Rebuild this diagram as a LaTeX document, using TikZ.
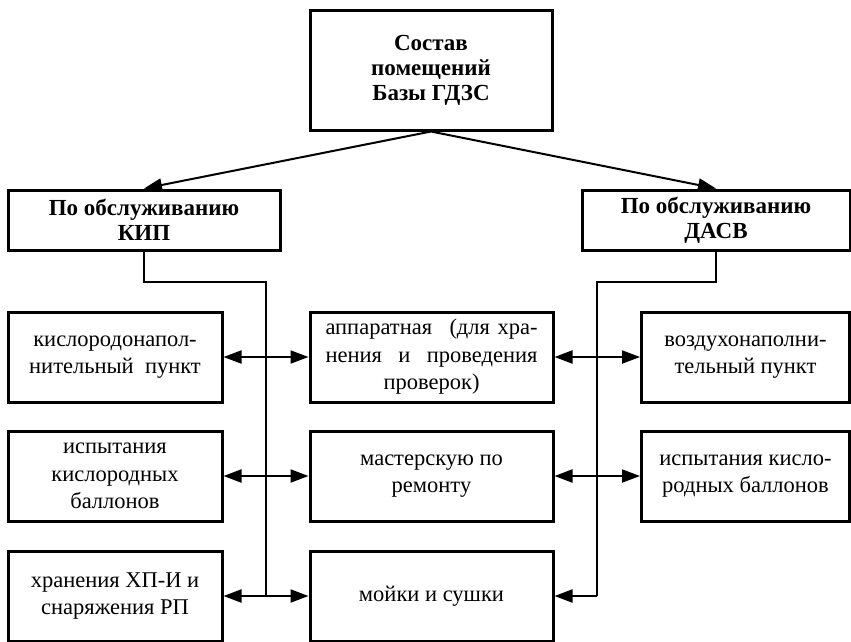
\documentclass[tikz,border=0pt]{standalone}
\usepackage{fontspec}
\setmainfont{Liberation Serif}
\usetikzlibrary{arrows.meta}

\begin{document}
\begin{tikzpicture}[x=1pt, y=-1pt,
    groupbox/.style={draw, line width=3pt, inner sep=0pt, align=center, font=\fontsize{23}{25}\selectfont\bfseries},
    roombox/.style={draw, line width=3pt, inner sep=0pt, minimum height=90pt, align=center, font=\fontsize{22.5}{27.5}\selectfont},
    link/.style={line width=2pt},
    dual/.style={link, {Triangle[length=18pt,width=13pt]}-{Triangle[length=18pt,width=13pt]}},
    single/.style={link, -{Triangle[length=18pt,width=13pt]}}]
    \useasboundingbox (0,0) rectangle (851,641);
    % heading and the two groups
    \node[groupbox, minimum width=242, minimum height=120] (base) at (431,70) {Состав\\помещений\\Базы ГДЗС};
    \node[groupbox, minimum width=272, minimum height=60] (kip) at (144,220) {По обслуживанию\\КИП};
    \node[groupbox, minimum width=268, minimum height=60] (dasv) at (716,220) {По обслуживанию\\ДАСВ};
    \draw[single] (base.south) -- (kip.north);
    \draw[single] (base.south) -- (dasv.north);
    % rooms
    \node[roombox, minimum width=214] (l1) at (115,357) {кислородонапол-\\нительный\ \ пункт};
    \node[roombox, minimum width=214] (l2) at (115,476) {испытания\\кислородных\\баллонов};
    \node[roombox, minimum width=214] (l3) at (115,596) {хранения ХП-И и\\снаряжения РП};
    \node[roombox, minimum width=243, text width=212] (m1) at (431.5,357) {аппаратная\hfill(для хра-\\нения\hfill и\hfill проведения\\проверок)};
    \node[roombox, minimum width=243] (m2) at (431.5,476) {мастерскую по\\ремонту};
    \node[roombox, minimum width=243] (m3) at (431.5,596) {мойки и сушки};
    \node[roombox, minimum width=208] (r1) at (745.5,357) {воздухонаполни-\\тельный пункт};
    \node[roombox, minimum width=208] (r2) at (745.5,476) {испытания кисло-\\родных баллонов};
    % buses
    \coordinate (lbus) at (266,282);
    \coordinate (rbus) at (597,282);
    \draw[link] (kip.south) |- (lbus) -- (lbus |- l3.east);
    \draw[link] (dasv.south) |- (rbus) -- (rbus |- m3.east);
    \draw[dual] (l1.east) -- (m1.west);
    \draw[dual] (l2.east) -- (m2.west);
    \draw[dual] (l3.east) -- (m3.west);
    \draw[dual] (m1.east) -- (r1.west);
    \draw[dual] (m2.east) -- (r2.west);
    \draw[single] (rbus |- m3.east) -- (m3.east);
\end{tikzpicture}
\end{document}
